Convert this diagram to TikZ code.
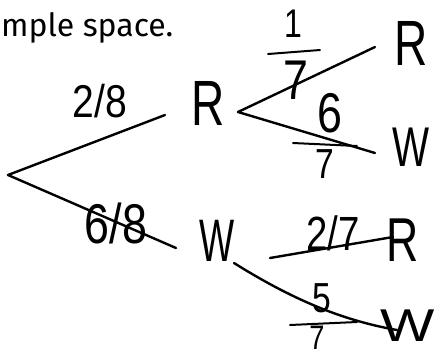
\documentclass[tikz,border=0pt]{standalone}
\usepackage{fontspec}
\usepackage{graphicx}
\setmainfont{Liberation Sans}
\newfontfamily\topfont{Fira Sans}
\newcommand\nar[2]{\scalebox{#1}[1]{#2}}
\newcommand\fs[1]{\fontsize{#1}{#1}\selectfont}
\begin{document}
\begin{tikzpicture}[x=1pt,y=-1pt,line cap=round,line join=round,
  branch/.style={line width=2.4pt},
  fbar/.style={line width=2pt},
  hand/.style={inner sep=0pt,anchor=center}]
\useasboundingbox (0,0) rectangle (440,360);
% title
\node[anchor=base west,inner sep=0pt,font=\topfont\fs{32}] (title) at (1,36) {mple space.};
% letters
\node[hand,font=\fs{64}] (R1) at (208,103) {\nar{0.72}{R}};
\node[hand,font=\fs{60}] (W1) at (217,241) {\nar{0.62}{W}};
\node[hand,font=\fs{64}] (R2) at (411,43) {\nar{0.72}{R}};
\node[hand,font=\fs{56}] (W2) at (411,147) {\nar{0.7}{W}};
\node[hand,font=\fs{62}] (R3) at (403,240) {\nar{0.72}{R}};
\node[hand,font=\fs{46}] (W3) at (408,326) {\nar{1.25}{W}};
% branch points
\coordinate (root) at (8,175);
\coordinate (r1v) at (238,112);
\coordinate (w1a) at (270,258);
\coordinate (w1b) at (234,263);
% branch ends
\coordinate (e1) at (165,115);
\coordinate (e2) at (176,248);
\coordinate (e3) at (375,47);
\coordinate (e4) at (375,153);
\coordinate (e5) at (393,237);
\coordinate (e6) at (397,330);
% branches
\draw[branch] (root) -- (e1);
\draw[branch] (root) -- (e2);
\draw[branch] (r1v) -- (e3);
\draw[branch] (r1v) -- (e4);
\draw[branch] (w1a) -- (e5);
\draw[branch] (w1b) .. controls (290,298) and (340,320) .. (e6);
% probabilities
\node[hand,font=\fs{46}] (p28) at (100,101) {\nar{0.85}{2/8}};
\node[hand,font=\fs{56}] (p68) at (116,223) {\nar{0.8}{6/8}};
% 1/7
\node[hand,font=\fs{40}] (n17) at (293,24) {\nar{0.8}{1}};
\coordinate (b17a) at (268,54);
\coordinate (b17b) at (320,50);
\draw[fbar] (b17a) -- (b17b);
\node[hand,font=\fs{56}] (d17) at (296,80) {\nar{0.8}{7}};
% 6/7
\node[hand,font=\fs{56}] (n67) at (330,113) {\nar{0.8}{6}};
\coordinate (b67a) at (293,143);
\coordinate (b67b) at (357,146);
\draw[fbar] (b67a) -- (b67b);
\node[hand,font=\fs{42}] (d67) at (325,164) {\nar{0.8}{7}};
% 2/7
\node[hand,font=\fs{48}] (p27) at (333,233) {\nar{0.8}{2/7}};
% 5/7
\node[hand,font=\fs{42}] (n57) at (322,298) {\nar{0.8}{5}};
\coordinate (b57a) at (290,325);
\coordinate (b57b) at (357,322);
\draw[fbar] (b57a) -- (b57b);
\node[hand,font=\fs{34}] (d57) at (317,338) {\nar{0.8}{7}};
\end{tikzpicture}
\end{document}
